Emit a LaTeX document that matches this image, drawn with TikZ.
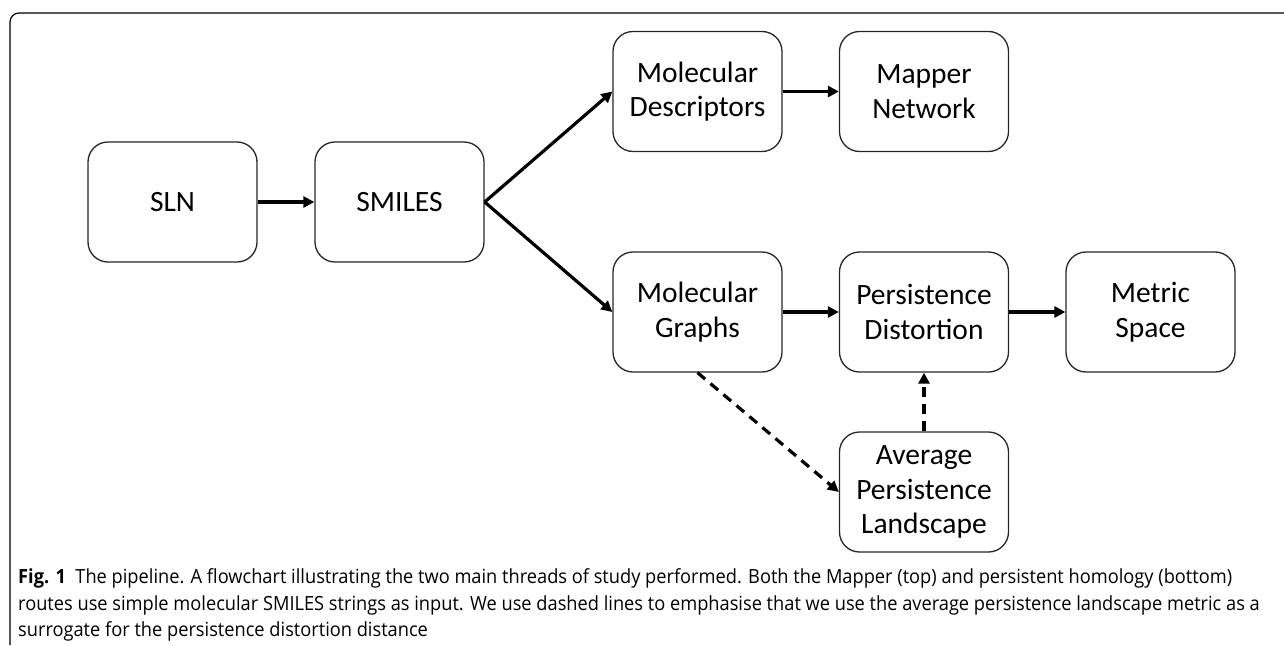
\documentclass[tikz,border=0pt]{standalone}
\usepackage{fontspec}
\setmainfont{Carlito}
\newfontfamily\capfont{Open Sans}
\usetikzlibrary{arrows.meta}

\tikzset{
  stage/.style={draw=black!85, line width=1.3pt, rounded corners=20pt,
    minimum width=169pt, minimum height=120pt, inner sep=0pt,
    align=center, font=\fontsize{29.5}{34.5}\selectfont},
  flow/.style={line width=3.2pt, -{Triangle[length=11pt,width=11pt]}},
  proxy/.style={flow, dash pattern=on 10pt off 7pt},
  capline/.style={anchor=base west, inner sep=0pt,
    font=\capfont\fontsize{19.5}{22}\selectfont}
}

\begin{document}
\begin{tikzpicture}[x=1pt, y=-1pt]
  \useasboundingbox (0,0) rectangle (1284,645);
  % frame of the figure
  \draw[line width=1.2pt, rounded corners=9pt] (1284,13) -- (10,13) -- (10,645);
  \draw
    (172.5,202) node[stage] (sln){SLN}
    (399.5,202) node[stage] (smiles){SMILES}
    (697.5,91.5) node[stage] (desc){Molecular\\Descriptors}
    (924,91.5) node[stage] (mapper){Mapper\\Network}
    (697.5,312) node[stage] (graphs){Molecular\\Graphs}
    (924,312) node[stage] (distortion){Persistence\\Distortion}
    (1150.5,312) node[stage] (metric){Metric\\Space}
    (924,492) node[stage] (landscape){Average\\Persistence\\Landscape};
  \begin{scope}[flow]
    \draw (sln) to (smiles);
    \draw (smiles.east) to (desc.west);
    \draw (smiles.east) to (graphs.west);
    \draw (desc) to (mapper);
    \draw (graphs) to (distortion);
    \draw (distortion) to (metric);
  \end{scope}
  \begin{scope}[proxy]
    \draw (graphs.south) to (landscape.west);
    \draw (landscape) to (distortion);
  \end{scope}
  % caption
  \node[capline] (cap1) at (18,583) {\scalebox{0.935}[1]{\textbf{Fig. 1}\ \ The pipeline. A flowchart illustrating the two main threads of study performed. Both the Mapper (top) and persistent homology (bottom)}};
  \node[capline] (cap2) at (18,610) {\scalebox{0.935}[1]{routes use simple molecular SMILES strings as input. We use dashed lines to emphasise that we use the average persistence landscape metric as a}};
  \node[capline] (cap3) at (18,636) {\scalebox{0.935}[1]{surrogate for the persistence distortion distance}};
\end{tikzpicture}
\end{document}
